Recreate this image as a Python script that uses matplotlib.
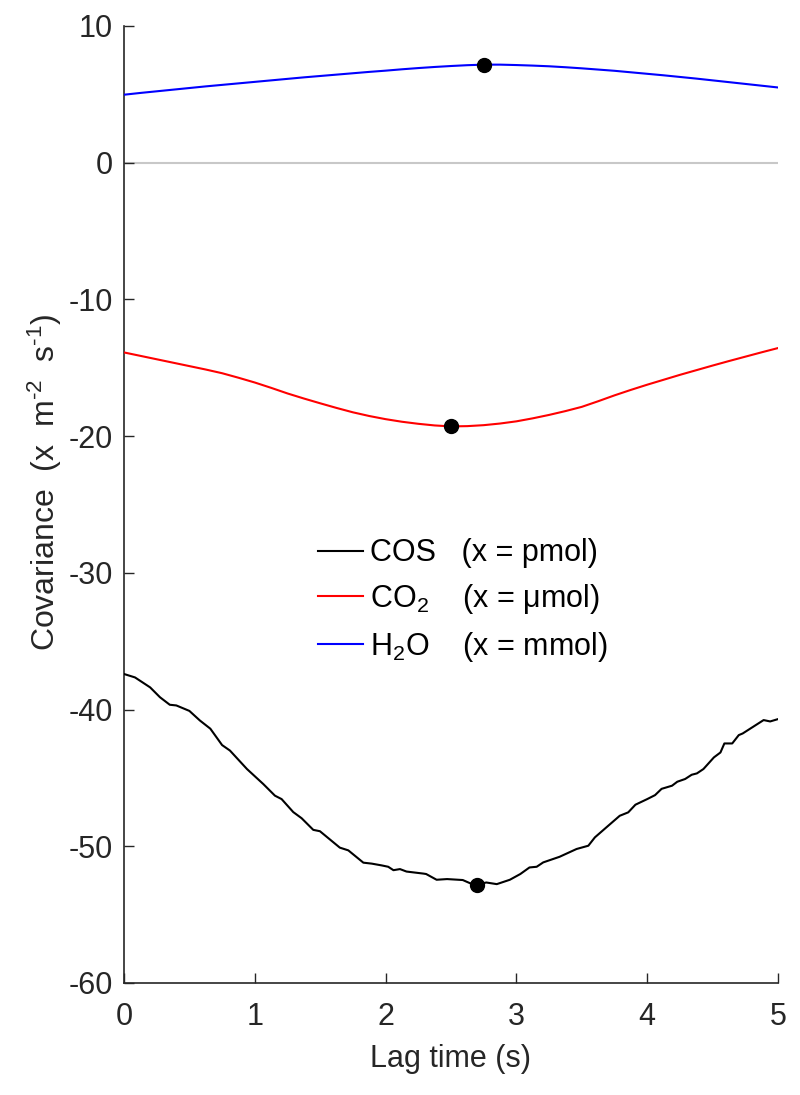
import matplotlib
matplotlib.use("Agg")
import matplotlib.pyplot as plt

plt.rcParams['font.family'] = ['Liberation Sans', 'DejaVu Sans']
plt.rcParams['mathtext.fontset'] = 'custom'
plt.rcParams['mathtext.rm'] = 'Liberation Sans'
plt.rcParams['mathtext.it'] = 'Liberation Sans:italic'
plt.rcParams['axes.unicode_minus'] = False

# ---- data ----
lag_smooth = [0, 0.125, 0.25, 0.375, 0.5, 0.625, 0.75, 0.875, 1.0, 1.125, 1.25, 1.375,
              1.5, 1.625, 1.75, 1.875, 2.0, 2.125, 2.25, 2.375, 2.5, 2.625, 2.75, 2.875,
              3.0, 3.125, 3.25, 3.375, 3.5, 3.625, 3.75, 3.875, 4.0, 4.125, 4.25, 4.375,
              4.5, 4.625, 4.75, 4.875, 5.0]
h2o = [4.97, 5.10, 5.22, 5.34, 5.46, 5.58, 5.69, 5.80, 5.91, 6.02, 6.13, 6.24,
       6.34, 6.44, 6.54, 6.64, 6.73, 6.83, 6.92, 7.00, 7.07, 7.13, 7.17, 7.17,
       7.14, 7.10, 7.05, 6.98, 6.90, 6.81, 6.72, 6.61, 6.50, 6.39, 6.27, 6.15,
       6.02, 5.89, 5.76, 5.63, 5.50]
co2 = [-13.88, -14.13, -14.38, -14.63, -14.88, -15.13, -15.40, -15.73, -16.08, -16.47,
       -16.88, -17.25, -17.60, -17.94, -18.26, -18.53, -18.76, -18.95, -19.10, -19.22,
       -19.29, -19.27, -19.20, -19.08, -18.92, -18.70, -18.45, -18.17, -17.86, -17.45,
       -17.02, -16.62, -16.24, -15.88, -15.52, -15.18, -14.84, -14.51, -14.19, -13.87,
       -13.56]

lag_cos = [0.0, 0.084, 0.2, 0.275, 0.35, 0.40, 0.50, 0.58, 0.66, 0.75, 0.81, 0.94,
           1.065, 1.154, 1.205, 1.294, 1.358, 1.447, 1.498, 1.65, 1.715, 1.83, 1.894,
           1.97, 2.02, 2.06, 2.11, 2.16, 2.29, 2.31, 2.39, 2.47, 2.59, 2.645, 2.70,
           2.77, 2.85, 2.95, 3.03, 3.10, 3.155, 3.205, 3.33, 3.46, 3.55, 3.60, 3.69,
           3.79, 3.855, 3.91, 4.0, 4.06, 4.11, 4.19, 4.23, 4.29, 4.34, 4.38, 4.43,
           4.51, 4.56, 4.59, 4.65, 4.70, 4.73, 4.81, 4.89, 4.94, 5.0]
cos = [-37.4, -37.65, -38.38, -39.1, -39.65, -39.7, -40.1, -40.8, -41.4, -42.6, -43.0,
       -44.35, -45.45, -46.3, -46.55, -47.5, -47.95, -48.8, -48.9, -50.1, -50.3, -51.2,
       -51.27, -51.4, -51.5, -51.75, -51.67, -51.85, -52.0, -52.03, -52.45, -52.4,
       -52.47, -52.7, -52.8, -52.65, -52.77, -52.45, -52.03, -51.55, -51.5, -51.18,
       -50.77, -50.2, -49.96, -49.35, -48.6, -47.77, -47.52, -46.96, -46.55, -46.26,
       -45.8, -45.57, -45.28, -45.08, -44.77, -44.67, -44.35, -43.5, -43.14, -42.48,
       -42.48, -41.87, -41.75, -41.26, -40.77, -40.87, -40.7]

peak_x = [2.70, 2.5, 2.75]
peak_y = [-52.8, -19.29, 7.17]

labels = ["COS   (x = pmol)", "CO$_2$    (x = μmol)", "H$_2$O    (x = mmol)"]

xticks = [0, 1, 2, 3, 4, 5]
yticks = [-60, -50, -40, -30, -20, -10, 0, 10]

# ---- figure ----
fig = plt.figure(figsize=(8.0, 10.95), dpi=100)
ax = fig.add_axes([0.155, 0.1023, 0.8175, 0.874])

ax.axhline(0, color='#c8c8c8', lw=1.5, zorder=1)
l1, = ax.plot(lag_cos, cos, color='black', lw=1.5, label=labels[0], zorder=3)
l2, = ax.plot(lag_smooth, co2, color='#ff0000', lw=1.5, label=labels[1], zorder=3)
l3, = ax.plot(lag_smooth, h2o, color='#0000ff', lw=1.5, label=labels[2], zorder=3)
ax.plot(peak_x, peak_y, 'o', color='black', ms=10, zorder=4)

ax.set_xlim(0, 5)
ax.set_ylim(-60, 10)
ax.set_xticks(xticks)
ax.set_yticks(yticks)
ax.tick_params(direction='in', length=7, width=1, labelsize=22, color='#262626',
               labelcolor='#262626')
ax.tick_params(axis='y', pad=8)
ax.tick_params(axis='x', pad=14)
for s in ['top', 'right']:
    ax.spines[s].set_visible(False)
for s in ['left', 'bottom']:
    ax.spines[s].set_color('#262626')
    ax.spines[s].set_linewidth(1.2)

ax.set_xlabel('Lag time (s)', fontsize=22, color='#262626')
ax.set_ylabel('Covariance  (x  m$^{\u2010 2}$  s$^{\u2010 1}$)', fontsize=23, color='#262626')
ax.xaxis.set_label_coords(0.5, -0.064)
ax.yaxis.set_label_coords(-0.092, 0.5235)

leg = ax.legend(handles=[l1, l2, l3], loc='center left', bbox_to_anchor=(0.297, 0.399),
                frameon=False, fontsize=22, handlelength=1.47, handletextpad=0.23,
                labelspacing=0.45, borderpad=0, borderaxespad=0)

fig.savefig('out.png', dpi=100)
